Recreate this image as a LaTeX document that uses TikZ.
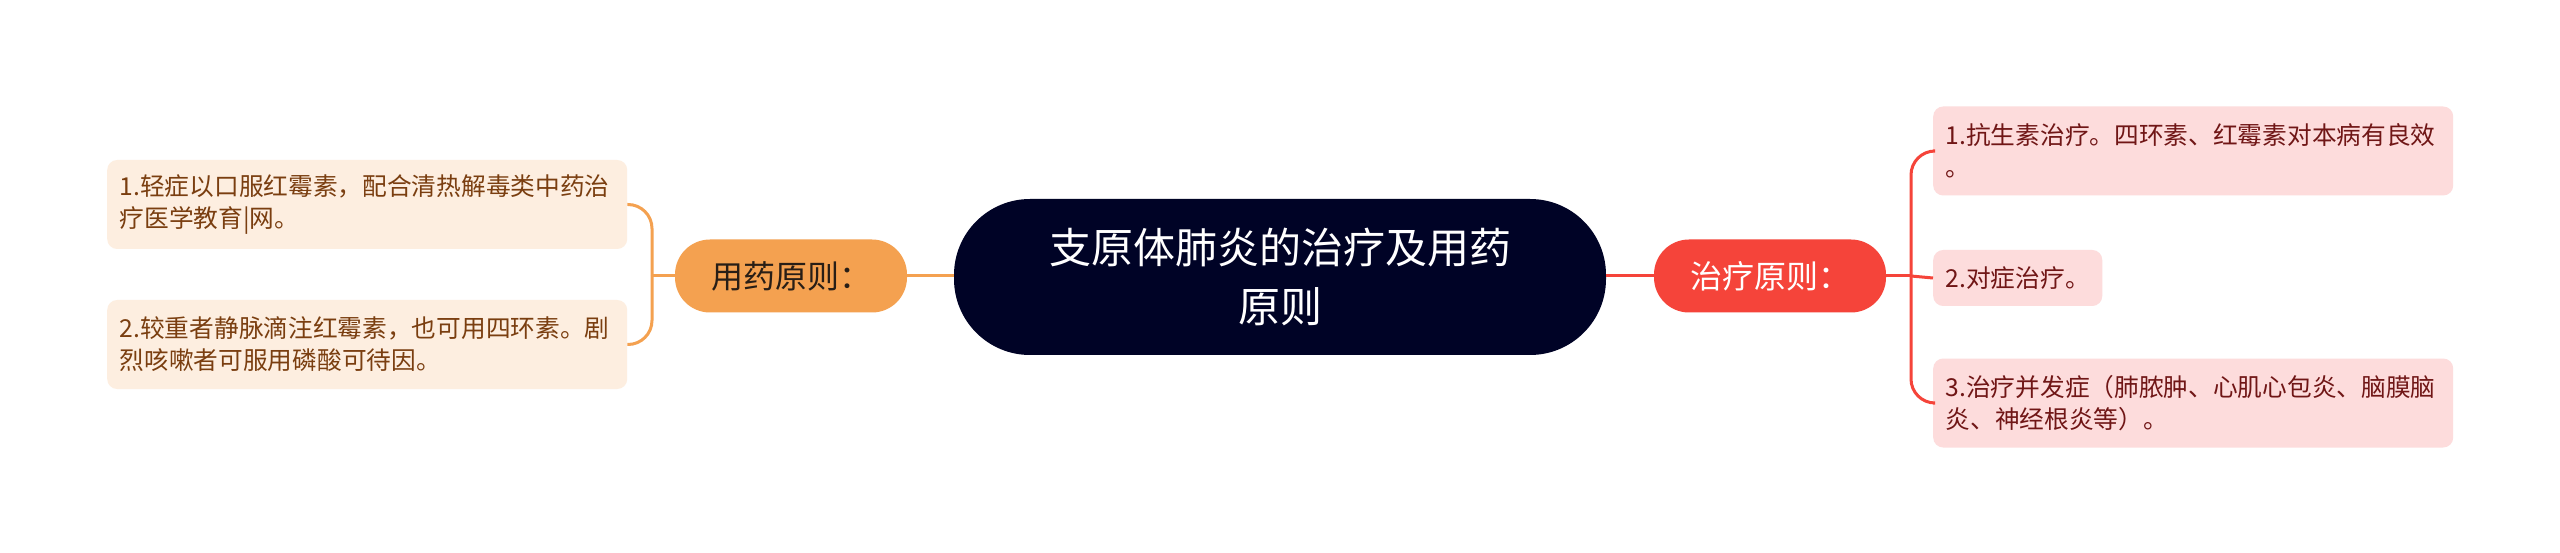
\documentclass[tikz,border=0pt]{standalone}
\usepackage{fontspec}
\setmainfont{Noto Sans CJK SC}
\definecolor{rootnavy}{RGB}{0,3,38}
\definecolor{drugorange}{RGB}{244,161,80}
\definecolor{drugpale}{RGB}{253,238,224}
\definecolor{drugtext}{RGB}{122,62,16}
\definecolor{druglabel}{RGB}{40,30,22}
\definecolor{curered}{RGB}{245,68,58}
\definecolor{curepale}{RGB}{253,220,220}
\definecolor{curetext}{RGB}{112,22,22}
\tikzset{%
  root/.style={%
    fill=rootnavy, text=white, rounded corners=76pt,
    minimum width=652pt, minimum height=156pt, align=center,
    font=\fontsize{42}{59}\selectfont
  },
  branch/.style={%
    fill=#1, rounded corners=35pt, minimum width=232pt, minimum height=73pt,
    font=\fontsize{32}{38}\selectfont
  },
  leaf/.style={%
    fill=#1, rounded corners=10pt, inner xsep=12.5pt, minimum height=89pt,
    align=left, font=\fontsize{24.7}{32}\selectfont
  },
  wide/.style={text width=495pt},
  link/.style={draw=#1, line width=3pt},
  fork/.style={draw=#1, line width=3pt, rounded corners=24pt}
}

\begin{document}
\begin{tikzpicture}[x=1pt, y=-1pt]
    \useasboundingbox [fill=white] (0,0) rectangle (2560,553);

    \node [root] (root) at (1280,277) {支原体肺炎的治疗及用药\\原则};
    \node [branch=drugorange, text=druglabel] (drug) at (791,276) {用药原则：};
    \node [branch=curered, text=white] (cure) at (1770,276) {治疗原则：};

    \node [leaf=drugpale, wide, text=drugtext, anchor=west] (drug-1) at (107,204.5)
      {1.轻症以口服红霉素，配合清热解毒类中药治\\疗医学教育|网。};
    \node [leaf=drugpale, wide, text=drugtext, anchor=west] (drug-2) at (107,344.5)
      {2.较重者静脉滴注红霉素，也可用四环素。剧\\烈咳嗽者可服用磷酸可待因。};

    \node [leaf=curepale, wide, text=curetext, anchor=west] (cure-1) at (1933,151)
      {1.抗生素治疗。四环素、红霉素对本病有良效\\。};
    \node [leaf=curepale, text=curetext, anchor=west, minimum height=56pt] (cure-2) at (1933,278)
      {2.对症治疗。};
    \node [leaf=curepale, wide, text=curetext, anchor=west] (cure-3) at (1933,403)
      {3.治疗并发症（肺脓肿、心肌心包炎、脑膜脑\\炎、神经根炎等）。};

    \coordinate (drug-fork) at (652,276);
    \coordinate (cure-fork) at (1911,276);

    \draw [link=drugorange] (root.west |- drug.east) -- (drug.east);
    \draw [link=drugorange] (drug.west) -- (drug-fork);
    \draw [fork=drugorange] (drug-fork) |- (drug-1.east);
    \draw [fork=drugorange] (drug-fork) |- (drug-2.east);

    \draw [link=curered] (root.east |- cure.west) -- (cure.west);
    \draw [link=curered] (cure.east) -- (cure-fork);
    \draw [fork=curered] (cure-fork) |- (cure-1.west);
    \draw [link=curered] (cure-fork) -- (cure-2.west);
    \draw [fork=curered] (cure-fork) |- (cure-3.west);
\end{tikzpicture}
\end{document}
